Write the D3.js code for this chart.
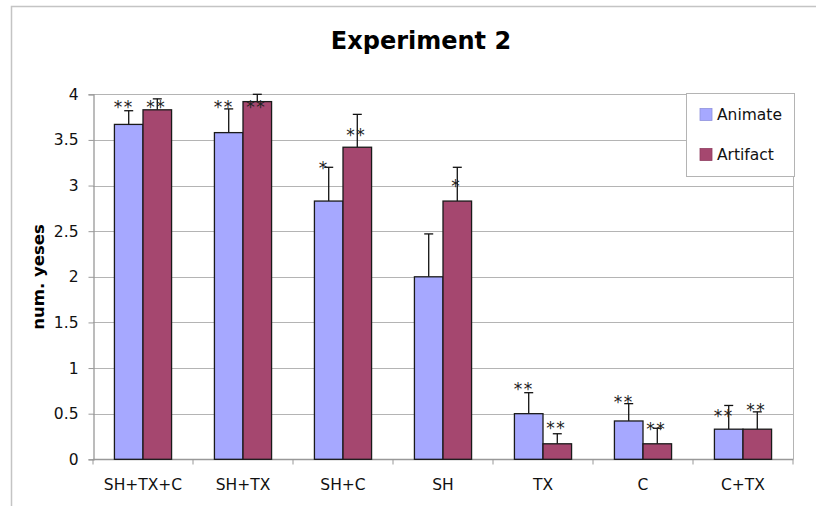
<!DOCTYPE html>
<html>
<head>
<meta charset="utf-8">
<script src="https://cdn.jsdelivr.net/npm/d3@7/dist/d3.min.js"></script>
<style>
  html, body { margin: 0; padding: 0; background: #fff; }
  svg { display: block; font-family: "DejaVu Sans", Verdana, sans-serif; }
</style>
</head>
<body>
<svg id="chart" width="816" height="506"></svg>
<script>
// ---- data ----
const categories = ["SH+TX+C", "SH+TX", "SH+C", "SH", "TX", "C", "C+TX"];
const seriesNames = ["Animate", "Artifact"];
const animateValues = [3.67, 3.58, 2.83, 2.00, 0.50, 0.42, 0.33];
const artifactValues = [3.83, 3.92, 3.42, 2.83, 0.17, 0.17, 0.33];
const animateErrors = [0.15, 0.26, 0.37, 0.47, 0.23, 0.19, 0.26];
const artifactErrors = [0.12, 0.08, 0.36, 0.37, 0.11, 0.17, 0.19];
const animateStars = ["**", "**", "*", "", "**", "**", "**"];
const artifactStars = ["**", "**", "**", "*", "**", "**", "**"];
const animateStarAt = [3.90, 3.90, 3.24, null, 0.81, 0.67, 0.52];
const artifactStarAt = [3.90, 3.90, 3.60, 3.04, 0.39, 0.38, 0.58];
const yTicks = [0, 0.5, 1, 1.5, 2, 2.5, 3, 3.5, 4];
const titleText = "Experiment 2";
const yLabel = "num. yeses";

// ---- styling ----
const colors = ["#A6A8FF", "#A5476F"];
const W = 816, H = 506;
const plot = { left: 93, right: 793, top: 94.3, bottom: 459.3 };

const svg = d3.select("#chart");
svg.append("rect").attr("width", W).attr("height", H).attr("fill", "#fff");

// outer frame
svg.append("path")
  .attr("d", `M11.5,${H} V6.5 H${W}`)
  .attr("fill", "none").attr("stroke", "#c4c4c4").attr("stroke-width", 1.5);

const x = d3.scaleBand().domain(categories).range([plot.left, plot.right]).padding(0);
const barW = x.bandwidth() / 3.5;
const groupOff = (x.bandwidth() - 2 * barW) / 2;
const xs = d3.scaleBand().domain(seriesNames).range([0, 2 * barW]).padding(0);
const y = d3.scaleLinear().domain([0, 4]).range([plot.bottom, plot.top]);

// gridlines
svg.append("g").selectAll("line").data(yTicks.filter(d => d > 0)).join("line")
  .attr("x1", plot.left).attr("x2", plot.right)
  .attr("y1", d => Math.round(y(d)) + 0.5).attr("y2", d => Math.round(y(d)) + 0.5)
  .attr("stroke", "#b4b4b4").attr("stroke-width", 1);

// right border of plot area
svg.append("line")
  .attr("x1", plot.right + 0.5).attr("x2", plot.right + 0.5)
  .attr("y1", y(4)).attr("y2", plot.bottom)
  .attr("stroke", "#b4b4b4");

// y axis
const yAxis = d3.axisLeft(y).tickValues(yTicks).tickSize(5).tickPadding(10)
  .tickFormat(d3.format("~g"));
const gy = svg.append("g").attr("transform", `translate(${plot.left + 0.5},0)`).call(yAxis);
gy.select(".domain").attr("stroke", "#999").attr("stroke-width", 1.3);
gy.selectAll(".tick line").attr("stroke", "#999");
gy.selectAll(".tick text").attr("font-size", 15.5).attr("fill", "#111")
  .attr("font-family", "DejaVu Sans, Verdana, sans-serif");

// x axis
const gx = svg.append("g").attr("transform", `translate(0,${Math.round(plot.bottom) + 0.5})`);
gx.append("line").attr("x1", plot.left).attr("x2", plot.right + 0.5)
  .attr("stroke", "#999").attr("stroke-width", 1.3);
const boundaries = categories.map(c => x(c)).concat([x(categories[categories.length - 1]) + x.bandwidth()]);
gx.selectAll("line.tk").data(boundaries).join("line").attr("class", "tk")
  .attr("x1", d => d).attr("x2", d => d).attr("y1", 0).attr("y2", 5)
  .attr("stroke", "#999");
gx.selectAll("text").data(categories).join("text")
  .attr("x", d => x(d) + x.bandwidth() / 2).attr("y", 30)
  .attr("text-anchor", "middle").attr("font-size", 15.5).attr("fill", "#111")
  .text(d => d);

// bars
const series = [
  { name: "Animate", values: animateValues, errors: animateErrors, stars: animateStars, starAt: animateStarAt, dx: -5 },
  { name: "Artifact", values: artifactValues, errors: artifactErrors, stars: artifactStars, starAt: artifactStarAt, dx: -1 }
];

series.forEach((s, si) => {
  const g = svg.append("g");
  const data = categories.map((c, i) => ({ c, v: s.values[i], e: s.errors[i], st: s.stars[i], sa: s.starAt[i] }));
  const bx = d => x(d.c) + groupOff + xs(s.name);
  // error bars (up only)
  g.selectAll("line.eb").data(data).join("line").attr("class", "eb")
    .attr("x1", d => bx(d) + barW / 2).attr("x2", d => bx(d) + barW / 2)
    .attr("y1", d => y(d.v)).attr("y2", d => y(d.v + d.e))
    .attr("stroke", "#111").attr("stroke-width", 1.3);
  g.selectAll("line.cap").data(data).join("line").attr("class", "cap")
    .attr("x1", d => bx(d) + barW / 2 - 4.5).attr("x2", d => bx(d) + barW / 2 + 4.5)
    .attr("y1", d => y(d.v + d.e)).attr("y2", d => y(d.v + d.e))
    .attr("stroke", "#111").attr("stroke-width", 1.3);
  g.selectAll("rect").data(data).join("rect")
    .attr("x", d => bx(d)).attr("width", barW)
    .attr("y", d => y(d.v)).attr("height", d => y(0) - y(d.v))
    .attr("fill", colors[si]).attr("stroke", "#1a1a1a").attr("stroke-width", 1.3);
  // significance stars
  g.selectAll("text").data(data.filter(d => d.st && d.sa != null)).join("text")
    .attr("x", d => bx(d) + barW / 2 + s.dx).attr("y", d => y(d.sa) + 10)
    .attr("text-anchor", "middle").attr("font-size", 17).attr("letter-spacing", 1.5)
    .attr("fill", "#222").text(d => d.st);
});

// title
svg.append("text").attr("x", 421).attr("y", 49).attr("text-anchor", "middle")
  .attr("font-size", 24).attr("font-weight", "bold").attr("fill", "#000").text(titleText);

// y label
svg.append("text").attr("transform", `translate(44,277) rotate(-90)`)
  .attr("text-anchor", "middle").attr("font-size", 16.5).attr("font-weight", "bold")
  .attr("fill", "#000").text(yLabel);

// legend
const lg = svg.append("g");
lg.append("rect").attr("x", 686.5).attr("y", 93.5).attr("width", 108).attr("height", 83)
  .attr("fill", "#fff").attr("stroke", "#b4b4b4");
seriesNames.forEach((n, i) => {
  lg.append("rect").attr("x", 700).attr("y", 108.5 + i * 40).attr("width", 12).attr("height", 12)
    .attr("fill", colors[i]).attr("stroke", d3.color(colors[i]).darker(0.4)).attr("stroke-width", 0.8);
  lg.append("text").attr("x", 717).attr("y", 120 + i * 40).attr("font-size", 15.5)
    .attr("fill", "#111").text(n);
});
</script>
</body>
</html>
